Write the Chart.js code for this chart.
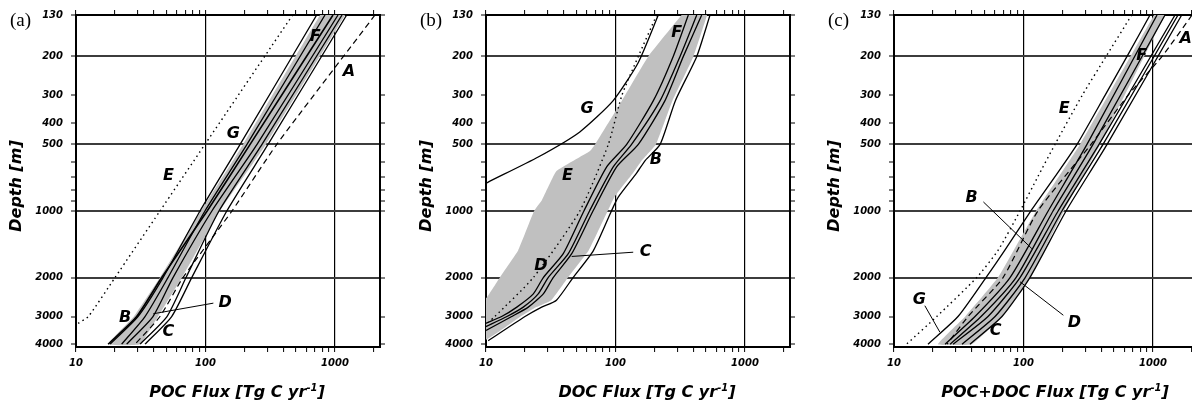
<!DOCTYPE html>
<html>
<head>
<meta charset="utf-8">
<script src="https://cdn.jsdelivr.net/npm/chart.js@4.4.0/dist/chart.umd.min.js"></script>
<style>
  html, body { margin: 0; padding: 0; background: #fff; overflow: hidden; }
  body { width: 1192px; height: 406px; position: relative; }
  canvas { position: absolute; top: 0; }
</style>
</head>
<body>
<canvas id="panelA" width="395" height="406" style="left:0px"></canvas>
<canvas id="panelB" width="395" height="406" style="left:410px"></canvas>
<canvas id="panelC" width="395" height="406" style="left:818px"></canvas>
<script>
// ---- axes ----
const xTicks = [10, 20, 30, 40, 50, 60, 70, 80, 90, 100, 200, 300, 400, 500, 600, 700, 800, 900, 1000, 2000];
const xLabelled = [10, 100, 1000];
const xGrid = [100, 1000];
const yTicks = [130, 200, 300, 400, 500, 600, 700, 800, 900, 1000, 2000, 3000, 4000];
const yUnlabelled = [600, 700, 800, 900];
const yGrid = [200, 500, 1000, 2000];

// ---- (a) POC flux [Tg C/yr] vs depth [m] ----
const depthA = [130, 500, 1000, 2000, 3000, 4000];
const pocA = [2037, 355, 160, 67, 44.5, 28.6];
const pocB = [965, 221, 103, 45.9, 29.4, 17.7];
const pocC = [1231, 304, 146, 78.3, 54.8, 34.1];
const pocC2 = [1133, 273, 127, 70.7, 50.4, 31.2];
const pocD = [1055, 250, 112, 56.1, 39.3, 24.6];
const pocF = [837, 209, 99, 51.3, 34.1, 22.5];
const pocG = [722, 185, 90.7, 47, 30.1, 18.3];
const pocBandLo = [766, 195, 92.3, 44.5, 28, 17.7];
const pocBandHi = [1195, 293, 129, 65.8, 43, 31.2];
const depthEa = [130, 500, 1000, 2000, 3000, 3220];
const pocE = [471, 99, 44.5, 20, 12.45, 10.4];

// ---- (b) DOC flux ----
const depthEb = [130, 200, 300, 500, 1000, 2000, 3000, 3190];
const docE = [208, 150, 112, 88, 53, 23.2, 11.7, 10.4];
const depthGb = [130, 213, 317, 439, 570, 740, 760];
const docG = [214, 150, 96, 53, 25.3, 10.4, 9.6];
const depthBb = [130, 200, 317, 500, 590, 676, 866, 1000, 1510, 2000, 2530, 2720, 3000, 3860];
const docB = [537, 424, 290, 221, 170, 145, 105, 93, 67.5, 47, 35, 26.9, 20, 10.4];
const docBandHi = [510, 400, 275, 205, 160, 136, 98, 87, 62, 43, 32, 24.5, 18.5, 9.6];
const depthLoB = [130, 200, 317, 500, 535, 660, 895, 1000, 1510, 2000, 2450, 2800];
const docBandLo = [324, 179, 112, 69.5, 63.6, 35, 27, 23.5, 17.7, 12.8, 10.2, 8];
const depthFb = [130, 200, 317, 500, 632, 1000, 1560, 2000, 2370, 2720, 3000, 3220];
const docF = [365, 279, 196, 122, 85.5, 57, 39.5, 27.7, 23.2, 17.3, 13.2, 10];
const depthDb = [130, 200, 317, 500, 632, 1000, 1560, 2000, 2370, 2720, 3000, 3330];
const docD = [424, 315, 221, 133, 96, 63, 43.2, 30.2, 25.3, 19.4, 14.5, 10];
const depthCb = [130, 200, 317, 500, 632, 1000, 1560, 2000, 2370, 2720, 3000, 3470];
const docC = [463, 334, 241, 150, 102, 67, 45.9, 33, 27.7, 21.2, 15.8, 10];

// ---- (c) POC+DOC flux ----
const depthC = [130, 500, 1000, 2000, 3000, 4000];
const sumB = [1074, 309, 155, 78.7, 42.2, 24.8];
const sumF = [1238, 344, 169, 87.5, 47, 27.1];
const sumD = [1479, 383, 185, 94, 53.2, 28.6];
const sumC = [1560, 411, 198, 103, 60.3, 33.5];
const sumC2 = [1666, 442, 213, 112, 68.2, 38.6];
const sumBandLo = [1018, 273, 125, 63.5, 35.5, 21.9];
const sumBandHi = [1238, 390, 205, 112, 68.2, 40];
const depthAc = [130, 200, 300, 500, 1000, 2000, 3000, 4000];
const sumA = [2001, 1174, 641, 332, 129, 69.5, 37.3, 25.7];
const depthFull = [130, 200, 300, 500, 700, 1000, 1500, 2000, 3000, 4000];
const sumE = [685, 434, 284, 175, 129, 94, 63.9, 43.5, 21.4, 12.5];
const sumG = [948, 630, 426, 259, 175, 114, 72, 51.3, 31.2, 18.3];

// curve labels: [text, flux, depth] and leader lines: [flux0, depth0, flux1, depth1]
const labelsA = [['A', 1283, 234], ['F', 702, 163], ['G', 164, 450], ['E', 51.8, 690], ['B', 23.9, 3030], ['C', 51.6, 3530], ['D', 141.6, 2590]];
const leadersA = [[39.5, 2915, 115, 2610]];
const labelsB = [['F', 297, 156], ['G', 60.4, 344], ['B', 205, 585], ['E', 42.6, 690], ['D', 26.5, 1762], ['C', 171, 1536]];
const leadersB = [[45.9, 1605, 137, 1536]];
const labelsC = [['E', 206, 344], ['F', 818, 198], ['A', 1791, 167], ['B', 39.8, 871], ['G', 15.7, 2510], ['D', 247, 3190], ['C', 60.8, 3500]];
const leadersC = [[49, 910, 116, 1480], [94, 2090, 203, 2960], [17.3, 2680, 22.6, 3530]];

function pts(xs, ys) { return xs.map((x, i) => ({ x: x, y: ys[i] })); }
function band(loX, loY, hiX, hiY) { return pts(loX, loY).concat(pts(hiX, hiY).reverse()); }

function line(xs, ys, dash, width) {
  return { data: pts(xs, ys), showLine: true, pointRadius: 0, borderColor: '#000',
           borderWidth: width || 1.3, borderDash: dash || [], tension: 0.2, fill: false, order: 1 };
}
const solid = (xs, ys, w) => line(xs, ys, [], w);
const dashed = (xs, ys) => line(xs, ys, [6, 4], 1.2);
const dotted = (xs, ys) => line(xs, ys, [1.5, 3.5], 1.4);
function shade(points) {
  return { data: points, showLine: true, pointRadius: 0, borderWidth: 0, borderColor: 'rgba(0,0,0,0)',
           backgroundColor: '#c0c0c0', fill: 'shape', tension: 0.1, order: 10 };
}
function leaders(list) {
  return list.map(l => ({ data: [{ x: l[0], y: l[1] }, { x: l[2], y: l[3] }], showLine: true,
    pointRadius: 0, borderColor: '#000', borderWidth: 1, fill: false, order: 0 }));
}

const tickFont = { family: 'DejaVu Sans', size: 10, style: 'italic', weight: 'bold' };

function xScale(pos) {
  return {
    type: 'logarithmic', position: pos, min: 10, max: 2225,
    afterBuildTicks: s => { s.ticks = xTicks.map(v => ({ value: v })); },
    afterFit: s => { s.height = pos === 'bottom' ? 59 : 15; },
    ticks: { display: pos === 'bottom', autoSkip: false, maxRotation: 0, padding: 5, color: '#000', font: tickFont,
             callback: v => xLabelled.includes(v) ? String(v) : '' },
    grid: { drawOnChartArea: pos === 'bottom', tickLength: 5, tickColor: '#000', tickWidth: 1, lineWidth: 1.2,
            color: c => (c.tick && xGrid.includes(c.tick.value)) ? '#000' : 'rgba(0,0,0,0)' },
    border: { display: true, color: '#000', width: 2 }
  };
}
function yScale(pos) {
  return {
    type: 'logarithmic', position: pos, reverse: true, min: 130, max: 4120,
    afterBuildTicks: s => { s.ticks = yTicks.map(v => ({ value: v })); },
    afterFit: s => { s.width = pos === 'left' ? 76 : 15; },
    ticks: { display: pos === 'left', autoSkip: false, padding: 8, color: '#000', font: tickFont,
             callback: v => yUnlabelled.includes(v) ? '' : String(v) },
    grid: { drawOnChartArea: pos === 'left', tickLength: 5, tickColor: '#000', tickWidth: 1, lineWidth: 2,
            color: c => (c.tick && yGrid.includes(c.tick.value)) ? '#3c3c3c' : 'rgba(0,0,0,0)' },
    border: { display: true, color: '#000', width: 2 }
  };
}

// panel letter, curve labels and axis titles
const panelDecor = {
  id: 'panelDecor',
  afterDraw(chart, args, opts) {
    const ctx = chart.ctx, a = chart.chartArea;
    const xs = chart.scales.x, ys = chart.scales.y;
    const big = 'italic bold 16px "DejaVu Sans"';
    ctx.save();
    ctx.fillStyle = '#000';
    ctx.textBaseline = 'middle';

    ctx.font = '19px "Liberation Serif"';
    ctx.textAlign = 'left';
    ctx.fillText(opts.letter, a.left - 66, 21);

    ctx.font = big;
    ctx.textAlign = 'center';
    opts.labels.forEach(l => ctx.fillText(l[0], xs.getPixelForValue(l[1]), ys.getPixelForValue(l[2])));

    // x title with superscript
    const sup = 'italic bold 10px "DejaVu Sans"';
    ctx.textAlign = 'left';
    const w1 = ctx.measureText(opts.xTitle).width;
    const w3 = ctx.measureText(']').width;
    ctx.font = sup;
    const w2 = ctx.measureText('-1').width;
    let x = (a.left + a.right) / 2 + 9 - (w1 + w2 + w3) / 2;
    const y = 393;
    ctx.font = big;
    ctx.fillText(opts.xTitle, x, y); x += w1;
    ctx.font = sup;
    ctx.fillText('-1', x, y - 5); x += w2;
    ctx.font = big;
    ctx.fillText(']', x, y);

    // y title
    ctx.translate(a.left - 59, 186);
    ctx.rotate(-Math.PI / 2);
    ctx.textAlign = 'center';
    ctx.fillText('Depth [m]', 0, 0);
    ctx.restore();
  }
};

function makePanel(id, datasets, letter, xTitle, labels) {
  new Chart(document.getElementById(id), {
    type: 'scatter',
    data: { datasets: datasets },
    options: {
      responsive: false, animation: false, events: [], devicePixelRatio: 1,
      layout: { padding: 0 },
      scales: { x: xScale('bottom'), x2: xScale('top'), y: yScale('left'), y2: yScale('right') },
      plugins: { legend: { display: false }, tooltip: { enabled: false },
                 panelDecor: { letter: letter, xTitle: xTitle, labels: labels } }
    },
    plugins: [panelDecor]
  });
}

makePanel('panelA', [
  shade(band(pocBandLo, depthA, pocBandHi, depthA)),
  dotted(pocE, depthEa),
  dashed(pocA, depthA),
  solid(pocG, depthA),
  solid(pocB, depthA, 1.6),
  solid(pocF, depthA),
  solid(pocD, depthA),
  solid(pocC2, depthA),
  solid(pocC, depthA)
].concat(leaders(leadersA)), '(a)', 'POC Flux [Tg C yr', labelsA);

makePanel('panelB', [
  shade(band(docBandLo, depthLoB, docBandHi, depthBb)),
  dotted(docE, depthEb),
  solid(docG, depthGb),
  solid(docB, depthBb),
  solid(docF, depthFb),
  solid(docD, depthDb),
  solid(docC, depthCb)
].concat(leaders(leadersB)), '(b)', 'DOC Flux [Tg C yr', labelsB);

makePanel('panelC', [
  shade(band(sumBandLo, depthC, sumBandHi, depthC)),
  dotted(sumE, depthFull),
  solid(sumG, depthFull),
  dashed(sumA, depthAc),
  solid(sumB, depthC),
  solid(sumF, depthC),
  solid(sumD, depthC),
  solid(sumC, depthC),
  solid(sumC2, depthC)
].concat(leaders(leadersC)), '(c)', 'POC+DOC Flux [Tg C yr', labelsC);
</script>
</body>
</html>
